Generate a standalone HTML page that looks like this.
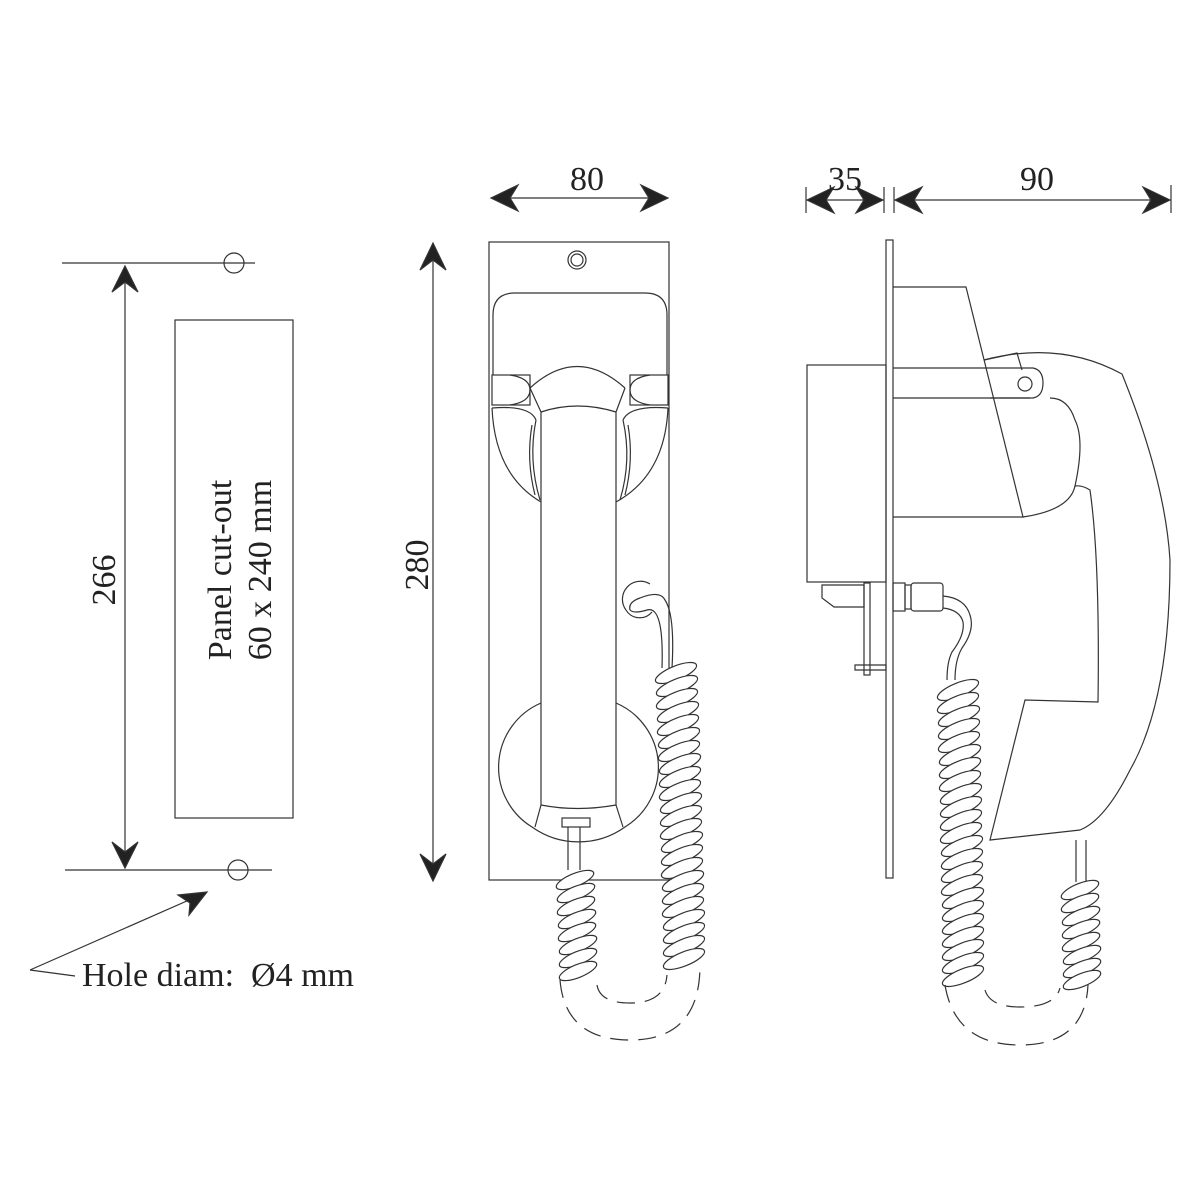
<!DOCTYPE html>
<html><head><meta charset="utf-8"><style>html,body{margin:0;padding:0;background:#fff}svg{display:block}</style></head>
<body>
<svg width="1200" height="1200" viewBox="0 0 1200 1200" xmlns="http://www.w3.org/2000/svg" font-family="Liberation Serif, serif" fill="none" stroke="#333" stroke-width="1.2">
<defs>
<ellipse id="c" cx="0" cy="0" rx="22" ry="7" transform="rotate(-22)" fill="#fff"/>
<ellipse id="cs" cx="0" cy="0" rx="20" ry="6.5" transform="rotate(-22)" fill="#fff"/>
</defs>
<!-- LEFT: panel cut-out -->
<line x1="62" y1="263" x2="255" y2="263"/>
<circle cx="234" cy="263" r="10"/>
<line x1="65" y1="870" x2="272" y2="870"/>
<circle cx="238" cy="870" r="10"/>
<line x1="125" y1="268" x2="125" y2="866"/>
<path d="M112 292 L125 266 L138 292 L125 282 Z M112 842 L125 868 L138 842 L125 852 Z" fill="#222"/>
<text x="115" y="580" font-size="34" fill="#222" stroke="none" transform="rotate(-90 115 580)" text-anchor="middle">266</text>
<rect x="175" y="320" width="118" height="498"/>
<g fill="#222" stroke="none" font-size="34" text-anchor="middle">
<text transform="translate(231 570) rotate(-90)">Panel cut-out</text>
<text transform="translate(271 570) rotate(-90)">60 x 240 mm</text>
</g>
<line x1="30" y1="970" x2="205" y2="893"/>
<line x1="30" y1="970" x2="75" y2="976"/>
<path d="M178 895 L207 892 L189 915 L190 903 Z" fill="#222"/>
<text x="82" y="986" font-size="34" fill="#222" stroke="none" xml:space="preserve">Hole diam:  Ø4 mm</text>

<!-- MIDDLE: front view -->
<line x1="491" y1="198" x2="668" y2="198"/>
<path d="M491 198 L518 185 L510 198 L518 211 Z M668 198 L641 185 L649 198 L641 211 Z" fill="#222"/>
<text x="587" y="190" font-size="34" fill="#222" stroke="none" text-anchor="middle">80</text>
<line x1="433" y1="244" x2="433" y2="880"/>
<path d="M420 270 L433 243 L446 270 L433 260 Z M420 854 L433 881 L446 854 L433 864 Z" fill="#222"/>
<text x="0" y="0" font-size="34" fill="#222" stroke="none" text-anchor="middle" transform="translate(428 565) rotate(-90)">280</text>
<rect x="489" y="242" width="180" height="638"/>
<circle cx="577" cy="260" r="9"/><circle cx="577" cy="260" r="6"/>
<path d="M493 375 L493 315 Q493 293 515 293 L645 293 Q667 293 667 315 L667 375"/>
<rect x="492" y="375" width="38" height="30"/><rect x="630" y="375" width="38" height="30"/>
<path d="M510 375 Q530 378 530 390 Q530 402 510 405 M650 375 Q630 378 630 390 Q630 402 650 405"/>
<path d="M530 388 Q577 345 625 388"/>
<path d="M530 388 L541 412 M625 388 L616 412"/>
<path d="M541 412 Q577 400 616 412"/>
<path d="M492 408 Q495 475 541 502 M668 408 Q665 475 616 502"/>
<path d="M492 408 Q530 405 536 420 M668 408 Q630 405 623 420"/>
<path d="M536 420 Q528 460 540 500 M623 420 Q632 460 620 500"/>
<path d="M532 425 Q526 460 535 495 M628 425 Q634 460 625 495"/>
<path d="M541 412 L541 805 M616 412 L616 805"/>
<path d="M541 703 A70 70 0 0 0 532 827 A80 80 0 0 0 625 827 A70 70 0 0 0 616 703"/>
<path d="M541 805 L535 827 M616 805 L623 827"/>
<path d="M541 805 Q577 812 616 805"/>
<rect x="562" y="818" width="28" height="9"/>
<path d="M568 827 L568 870 M580 827 L580 870"/>
<path d="M626 610 A16 16 0 0 0 652 612 M640 598 Q660 590 665 600 Q675 615 672 668 M647 610 Q664 605 662 668 M640 598 Q628 602 630 610 Q634 614 647 610"/>
<path d="M626 610 A18 18 0 0 1 650 584"/>
<g>
<use href="#cs" x="575" y="880"/><use href="#cs" x="576" y="893"/><use href="#cs" x="576" y="906"/><use href="#cs" x="577" y="919"/><use href="#cs" x="577" y="932"/><use href="#cs" x="578" y="945"/><use href="#cs" x="578" y="958"/><use href="#cs" x="578" y="971"/>
</g>
<g>
<use href="#c" x="676" y="673"/><use href="#c" x="677" y="686"/><use href="#c" x="677" y="699"/><use href="#c" x="678" y="712"/><use href="#c" x="678" y="725"/><use href="#c" x="679" y="738"/><use href="#c" x="679" y="751"/><use href="#c" x="680" y="764"/><use href="#c" x="680" y="777"/><use href="#c" x="680" y="790"/><use href="#c" x="681" y="803"/><use href="#c" x="681" y="816"/><use href="#c" x="681" y="829"/><use href="#c" x="682" y="842"/><use href="#c" x="682" y="855"/><use href="#c" x="682" y="868"/><use href="#c" x="683" y="881"/><use href="#c" x="683" y="894"/><use href="#c" x="683" y="907"/><use href="#c" x="684" y="920"/><use href="#c" x="684" y="933"/><use href="#c" x="684" y="946"/><use href="#c" x="684" y="959"/>
</g>
<path d="M560 980 Q565 1040 630 1040 Q700 1040 700 965" stroke-dasharray="18 10"/>
<path d="M597 985 Q600 1003 630 1003 Q665 1003 667 975" stroke-dasharray="18 10"/>

<!-- RIGHT: side view -->
<line x1="807" y1="200" x2="883" y2="200"/>
<path d="M807 200 L834 187 L826 200 L834 213 Z M883 200 L856 187 L864 200 L856 213 Z" fill="#222"/>
<line x1="806" y1="187" x2="806" y2="213"/><line x1="884" y1="187" x2="884" y2="213"/>
<line x1="895" y1="200" x2="1170" y2="200"/>
<path d="M895 200 L922 187 L914 200 L922 213 Z M1170 200 L1143 187 L1151 200 L1143 213 Z" fill="#222"/>
<line x1="894" y1="187" x2="894" y2="213"/><line x1="1171" y1="185" x2="1171" y2="213"/>
<text x="845" y="190" font-size="34" fill="#222" stroke="none" text-anchor="middle">35</text>
<text x="1037" y="190" font-size="34" fill="#222" stroke="none" text-anchor="middle">90</text>
<rect x="886" y="240" width="7" height="638"/>
<rect x="807" y="365" width="79" height="217"/>
<path d="M893 287 L966 287 L1023 517 L893 517"/>
<path d="M984 360 L1017 353 L1022 370 M990 398 L1030 398"/>
<path d="M984 360 Q1060 340 1122 374 Q1165 480 1170 560 Q1170 700 1130 770 Q1105 820 1080 830 L990 840 L1025 700 L1098 702 Q1100 560 1090 490 Q1082 485 1075 486 Q1085 440 1075 420 Q1068 398 1050 398"/>
<path d="M1075 486 Q1070 510 1023 517"/>
<path d="M893 368 L1033 368 Q1043 370 1043 383 Q1043 396 1033 398 L893 398"/>
<circle cx="1025" cy="384" r="7"/>
<rect x="893" y="583" width="12" height="28"/><rect x="905" y="585" width="6" height="24"/><rect x="911" y="583" width="32" height="28" rx="3"/>
<path d="M822 585 L864 585 L864 607 L834 607 L822 598 Z"/>
<rect x="864" y="583" width="6" height="92"/>
<path d="M855 665 L886 665 L886 670 L855 670 Z"/>
<path d="M943 596 Q965 598 970 615 Q975 630 962 648 Q955 660 955 680 M943 608 Q960 610 963 622 Q965 635 952 652 Q947 662 947 680"/>
<g>
<use href="#c" x="958" y="690"/><use href="#c" x="958" y="703"/><use href="#c" x="959" y="716"/><use href="#c" x="959" y="729"/><use href="#c" x="959" y="742"/><use href="#c" x="960" y="755"/><use href="#c" x="960" y="768"/><use href="#c" x="960" y="781"/><use href="#c" x="961" y="794"/><use href="#c" x="961" y="807"/><use href="#c" x="961" y="820"/><use href="#c" x="961" y="833"/><use href="#c" x="962" y="846"/><use href="#c" x="962" y="859"/><use href="#c" x="962" y="872"/><use href="#c" x="962" y="885"/><use href="#c" x="963" y="898"/><use href="#c" x="963" y="911"/><use href="#c" x="963" y="924"/><use href="#c" x="963" y="937"/><use href="#c" x="963" y="950"/><use href="#c" x="963" y="963"/><use href="#c" x="963" y="976"/>
</g>
<path d="M1076 840 L1076 882 M1086 840 L1086 882"/>
<g>
<use href="#cs" x="1080" y="890"/><use href="#cs" x="1080" y="903"/><use href="#cs" x="1081" y="916"/><use href="#cs" x="1081" y="929"/><use href="#cs" x="1081" y="942"/><use href="#cs" x="1082" y="955"/><use href="#cs" x="1082" y="968"/><use href="#cs" x="1082" y="980"/>
</g>
<path d="M945 985 Q955 1045 1020 1045 Q1085 1045 1088 985" stroke-dasharray="18 10"/>
<path d="M985 990 Q990 1007 1020 1007 Q1055 1007 1060 988" stroke-dasharray="18 10"/>
</svg>
</body></html>
